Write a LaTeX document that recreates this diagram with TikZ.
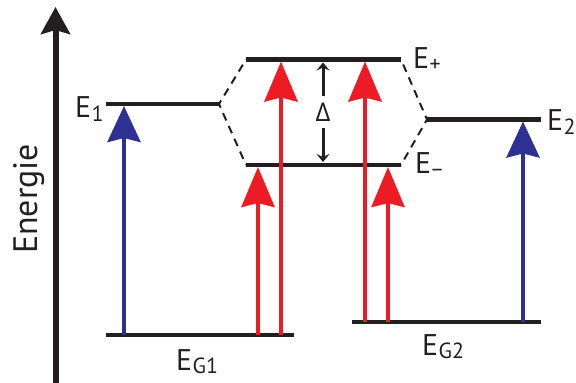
\documentclass[tikz,border=0pt]{standalone}
\usepackage{fontspec}
\setmainfont{PT Sans}
\newfontfamily\greekfont{Open Sans}
\usetikzlibrary{arrows.meta}
\definecolor{ink}{HTML}{231F20}
\definecolor{pumpblue}{HTML}{2E3192}
\definecolor{pumpred}{HTML}{ED1C24}
% level name: E with a lowered subscript
\newcommand\lvlname[2]{E\kern0.5bp\raisebox{-#2}{\fontsize{22}{22}\selectfont #1}}
\begin{document}
\begin{tikzpicture}[x=1bp,y=-1bp,
    level/.style={draw=ink,line width=4.5bp},
    coupling/.style={draw=ink,line width=2bp,dash pattern=on 8bp off 6bp,dash phase=4bp},
    axisline/.style={draw=ink,line width=6bp,-{Stealth[length=27bp,width=29bp,inset=4bp]}},
    bluearrow/.style={draw=pumpblue,line width=4.5bp,shorten >=2bp,
      -{Stealth[length=36bp,width=33bp,inset=4bp]}},
    redarrow/.style={draw=pumpred,line width=4.5bp,shorten >=2bp,
      -{Stealth[length=40bp,width=33bp,inset=4bp]}},
    gaparrow/.style={draw=ink,line width=3bp,shorten >=3bp,
      -{Stealth[length=8bp,width=13bp,inset=3bp]}},
    lbl/.style={text=ink,inner sep=0pt,font=\fontsize{30}{30}\selectfont},
  ]
  \useasboundingbox (0,0) rectangle (576,382);

  % energy axis
  \coordinate (axb) at (55.5,390);
  \coordinate (axt) at (55.5,7);
  \draw[axisline] (axb) -- (axt);
  \node[lbl,rotate=90,anchor=base west,font=\fontsize{34}{34}\selectfont] (ylab) at (37,254) {Energie};

  % level end points
  \coordinate (E1l) at (106,104);   \coordinate (E1r) at (219,104);
  \coordinate (Epl) at (246,59.5);  \coordinate (Epr) at (401,59.5);
  \coordinate (Eml) at (246,165);   \coordinate (Emr) at (401,165);
  \coordinate (E2l) at (427,119.5); \coordinate (E2r) at (541,119.5);
  \coordinate (G1l) at (106,335);   \coordinate (G1r) at (294,335);
  \coordinate (G2l) at (352,322);   \coordinate (G2r) at (541,322);

  % coupling between the single levels and the split pair
  \draw[coupling] (E1r) -- (Epl);
  \draw[coupling] (E1r) -- (Eml);
  \draw[coupling] (E2l) -- (Epr);
  \draw[coupling] (E2l) -- (Emr);

  % levels
  \draw[level] (E1l) -- (E1r);
  \draw[level] (Epl) -- (Epr);
  \draw[level] (Eml) -- (Emr);
  \draw[level] (E2l) -- (E2r);
  \draw[level] (G1l) -- (G1r);
  \draw[level] (G2l) -- (G2r);

  % transition columns
  \coordinate (b1) at (124,0);
  \coordinate (r1) at (258,0);
  \coordinate (r2) at (281,0);
  \coordinate (r3) at (365,0);
  \coordinate (r4) at (388,0);
  \coordinate (b2) at (523,0);

  % transitions
  \draw[bluearrow] (b1 |- G1l) -- (b1 |- E1l);
  \draw[redarrow] (r1 |- G1l) -- (r1 |- Eml);
  \draw[redarrow] (r2 |- G1l) -- (r2 |- Epl);
  \draw[redarrow] (r3 |- G2l) -- (r3 |- Epl);
  \draw[redarrow] (r4 |- G2l) -- (r4 |- Eml);
  \draw[bluearrow] (b2 |- G2l) -- (b2 |- E2l);

  % splitting
  \node[lbl,inner sep=7bp,font=\greekfont\fontsize{26}{26}\selectfont] (delta) at (323,112) {Δ};
  \draw[gaparrow] (delta.north) -- (delta.north |- Epl);
  \draw[gaparrow] (delta.south) -- (delta.south |- Eml);

  % level names
  \node[lbl,anchor=base west] (nE1) at (75,117) {\lvlname{1}{4bp}};
  \node[lbl,anchor=base west] (nEp) at (413,68) {\lvlname{+}{3bp}};
  \node[lbl,anchor=base west] (nEm) at (415,173) {\lvlname{−}{4bp}};
  \node[lbl,anchor=base west] (nE2) at (547,130) {\lvlname{2}{4bp}};
  \node[lbl,anchor=base west] (nG1) at (176,370) {\lvlname{G1}{3bp}};
  \node[lbl,anchor=base west] (nG2) at (422,355) {\lvlname{G2}{3bp}};
\end{tikzpicture}
\end{document}
